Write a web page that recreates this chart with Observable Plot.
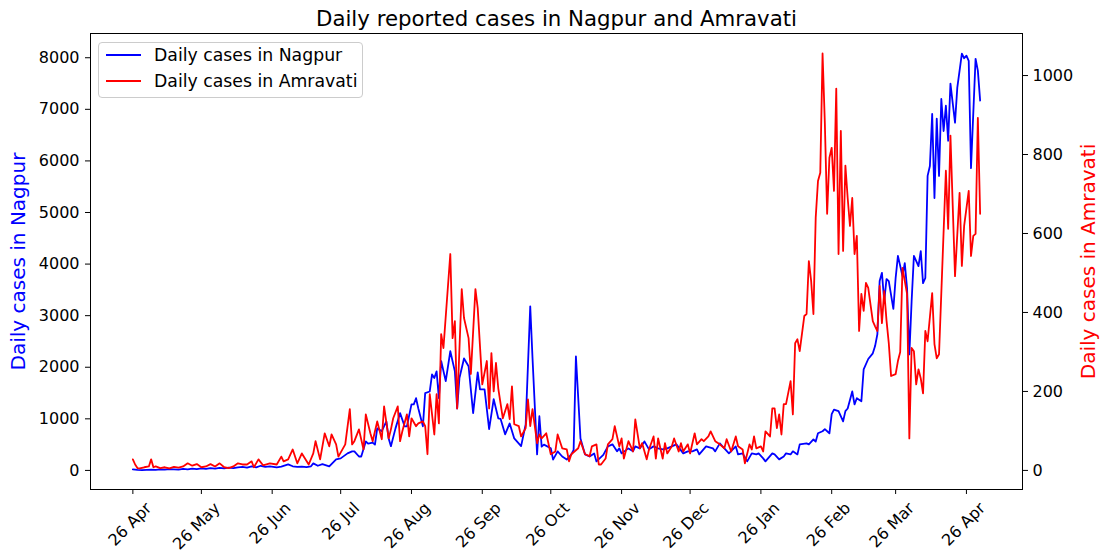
<!DOCTYPE html>
<html>
<head>
<meta charset="utf-8">
<script src="https://cdn.jsdelivr.net/npm/d3@7"></script>
<script src="https://cdn.jsdelivr.net/npm/@observablehq/plot@0.6"></script>
<style>
  body { margin: 0; background: #fff; font-family: "DejaVu Sans", sans-serif; }
  #wrap { position: relative; width: 1102px; height: 554px; }
  #legend { position: absolute; left: 98px; top: 42px; width: 263px; height: 54px;
    border: 1px solid #cccccc; border-radius: 4px; background: rgba(255,255,255,0.8);
    font-size: 17.3px; color: #000; }
  .row { position: absolute; left: 0; height: 20px; display: flex; align-items: center; }
  .swatch { display: inline-block; width: 35px; height: 2px; margin-left: 7px; margin-right: 13px; }
</style>
</head>
<body>
<div id="wrap">
  <div id="chart"></div>
  <div id="legend">
    <div class="row" style="top:2px"><span class="swatch" style="background:#0000ff"></span><span>Daily cases in Nagpur</span></div>
    <div class="row" style="top:28px"><span class="swatch" style="background:#ff0000"></span><span>Daily cases in Amravati</span></div>
  </div>
</div>
<script>
// Day offsets are counted from 26 Apr 2020
const nagpurDay = [0,2,4,6,8,10,12,14,16,18,20,22,24,26,28,30,32,34,36,38,40,42,44,46,48,50,52,54,56,58,60,63,65,68,70,72,74,76,78,79,81,83,86,89,91,94,96,97,99,100,102,103,105,106,107,109,111,112,113,115,117,119,120,122,123,124,125,127,128,130,131,132,133,134,135,137,139,141,142,143,145,147,149,151,152,154,156,158,160,161,163,165,167,170,172,174,175,177,178,179,180,183,184,186,188,190,192,193,194,196,198,200,202,203,206,208,210,212,213,214,217,219,220,222,224,226,228,230,232,234,236,238,241,243,245,247,248,251,254,255,257,259,261,264,265,267,269,271,273,274,276,277,280,281,283,285,286,288,289,291,292,295,296,298,299,300,302,303,305,306,307,309,311,312,313,315,316,317,319,320,322,324,325,326,327,328,329,330,331,333,334,335,337,338,339,340,341,342,344,345,346,347,348,349,350,351,352,353,354,355,356,357,358,360,361,363,364,365,366,367,369,370,371];
const nagpurCases = [20,10,5,10,15,10,20,15,25,20,15,30,20,35,25,40,30,45,35,50,40,55,45,60,70,55,80,60,90,70,80,60,75,117,80,70,75,65,80,136,90,120,78,214,233,330,370,370,270,270,560,520,540,500,815,760,950,620,470,815,1110,855,855,1280,1280,1400,1200,855,1500,1530,1860,1790,1920,1400,2120,1730,2310,1920,1200,1790,2170,2020,1110,1900,1570,1570,800,1380,1010,1000,700,910,620,470,890,3180,2175,310,1050,460,500,430,210,370,270,210,310,400,2210,620,310,270,330,175,300,466,505,370,427,330,427,370,466,427,563,408,466,427,408,427,466,505,330,370,370,408,310,466,427,370,524,427,330,466,310,330,175,330,310,330,233,175,330,310,214,270,330,310,370,310,505,524,505,600,560,720,760,800,720,1090,1180,1150,950,1150,1200,1530,1280,1400,1340,1960,2160,2270,2410,2640,3670,3830,3280,3710,3670,3130,3730,4160,3770,4020,3530,2250,3280,4160,3960,4250,3630,3730,5710,5900,6910,5280,6820,5710,7200,6580,7070,6390,7500,6740,7420,8080,7990,8040,7940,5860,7980,7750,7170];

const amravatiDay = [0,1,2,3,5,7,8,9,10,12,14,16,18,20,22,24,26,28,30,32,34,36,38,40,42,44,46,48,50,52,53,55,57,60,63,65,66,68,70,72,74,77,79,80,82,84,86,87,89,90,93,95,96,97,99,101,102,104,105,107,109,110,112,113,114,116,117,118,120,121,122,124,125,127,128,129,130,132,133,134,135,136,139,140,141,142,144,145,147,148,150,151,153,155,156,157,158,159,160,162,164,165,166,167,169,170,172,173,174,175,177,178,179,181,183,185,186,188,190,191,192,195,196,198,200,201,203,204,205,207,208,210,211,213,214,215,217,219,220,222,223,225,226,228,229,230,232,233,234,236,237,239,240,241,243,244,246,247,249,250,252,253,255,257,259,260,262,264,265,267,268,270,271,272,273,275,276,277,279,280,281,282,283,284,285,286,288,289,290,291,292,294,295,296,297,298,299,300,301,302,303,304,305,306,307,308,309,310,311,312,313,314,315,316,317,318,319,320,321,322,323,324,325,326,327,328,329,330,331,332,334,335,336,337,339,340,341,342,343,344,345,346,347,348,350,351,352,353,356,357,358,360,362,363,364,366,367,368,369,370,371];
const amravatiCases = [28,15,6,5,8,10,28,8,10,6,8,5,9,7,10,18,12,16,8,10,16,10,18,8,6,10,18,15,15,23,8,28,13,18,15,35,23,28,53,18,43,15,43,74,28,94,61,91,66,35,66,155,66,74,104,53,142,94,74,124,79,162,81,104,132,162,74,99,142,86,132,112,119,124,112,41,193,91,193,119,345,310,548,335,378,157,459,386,335,244,459,411,218,277,157,297,200,272,208,132,168,130,213,117,112,86,107,180,112,155,69,91,81,94,41,48,91,56,53,23,41,56,74,41,36,61,66,15,15,30,66,79,112,61,81,30,74,48,129,56,69,28,53,86,30,81,30,69,43,61,81,48,69,48,66,43,94,66,79,74,86,99,74,66,56,79,48,86,61,53,18,66,53,86,56,61,48,99,86,157,157,107,142,91,168,168,226,142,322,332,302,391,396,530,480,396,640,733,754,1056,880,650,792,817,708,967,548,860,556,772,690,619,690,548,594,353,447,404,475,462,420,378,365,353,467,373,454,380,322,239,244,277,300,513,447,81,310,302,218,256,233,195,353,327,449,320,284,294,759,612,848,492,703,518,619,708,543,594,599,893,650];

const xTickDates = ["2020-04-26","2020-05-26","2020-06-26","2020-07-26","2020-08-26","2020-09-26","2020-10-26","2020-11-26","2020-12-26","2021-01-26","2021-02-26","2021-03-26","2021-04-26"];
const leftTicks = [0,1000,2000,3000,4000,5000,6000,7000,8000];
const rightTicks = [0,200,400,600,800,1000];

const title = "Daily reported cases in Nagpur and Amravati";
const leftLabel = "Daily cases in Nagpur";
const rightLabel = "Daily cases in Amravati";

const start = Date.UTC(2020, 3, 26);
const DAY = 864e5;
const toDate = d => new Date(start + d * DAY);
const K = 7.655; // right-axis units -> left-axis units

const nag = nagpurDay.map((d, i) => ({date: toDate(d), v: nagpurCases[i]}));
const amr = amravatiDay.map((d, i) => ({date: toDate(d), v: amravatiCases[i] * K}));
const xTicks = xTickDates.map(s => new Date(s));
const fmt = d3.utcFormat("%d %b");

const chart = Plot.plot({
  width: 1102,
  height: 554,
  marginLeft: 90,
  marginRight: 80,
  marginTop: 33,
  marginBottom: 65,
  style: {fontFamily: "DejaVu Sans", fontSize: "16px", color: "#000", background: "transparent"},
  x: {type: "utc", domain: [toDate(-18.55), toDate(389.55)]},
  y: {domain: [-370, 8470]},
  marks: [
    Plot.line(nag, {x: "date", y: "v", stroke: "#0000ff", strokeWidth: 1.8}),
    Plot.line(amr, {x: "date", y: "v", stroke: "#ff0000", strokeWidth: 1.8}),
    Plot.frame({stroke: "#000", strokeWidth: 1}),
    Plot.axisX({ticks: xTicks, tickFormat: () => "", tickSize: 5, label: null, stroke: "#000"}),
    Plot.text(xTicks, {x: d => d, frameAnchor: "bottom", text: d => fmt(d), rotate: -45,
      textAnchor: "end", lineAnchor: "middle", dx: 16, dy: 16, fontSize: 16, fill: "#000"}),
    Plot.axisY({anchor: "left", ticks: leftTicks, tickFormat: d => String(d), tickSize: 5, tickPadding: 6,
      label: null, fontSize: 16, stroke: "#000", fill: "#000"}),
    Plot.axisY({anchor: "right", ticks: rightTicks.map(t => t * K), tickFormat: v => String(Math.round(v / K)),
      tickSize: 5, tickPadding: 5, label: null, fontSize: 16, stroke: "#000", fill: "#000"}),
    Plot.text([leftLabel], {frameAnchor: "left", dx: -72, rotate: -90, textAnchor: "middle", lineAnchor: "middle",
      fill: "#0000ff", fontSize: 20}),
    Plot.text([rightLabel], {frameAnchor: "right", dx: 66, rotate: -90, textAnchor: "middle", lineAnchor: "middle",
      fill: "#ff0000", fontSize: 20}),
    Plot.text([title], {frameAnchor: "top", dy: -14, textAnchor: "middle", lineAnchor: "middle", fill: "#000", fontSize: 21.3})
  ]
});
document.getElementById("chart").appendChild(chart);
</script>
</body>
</html>
